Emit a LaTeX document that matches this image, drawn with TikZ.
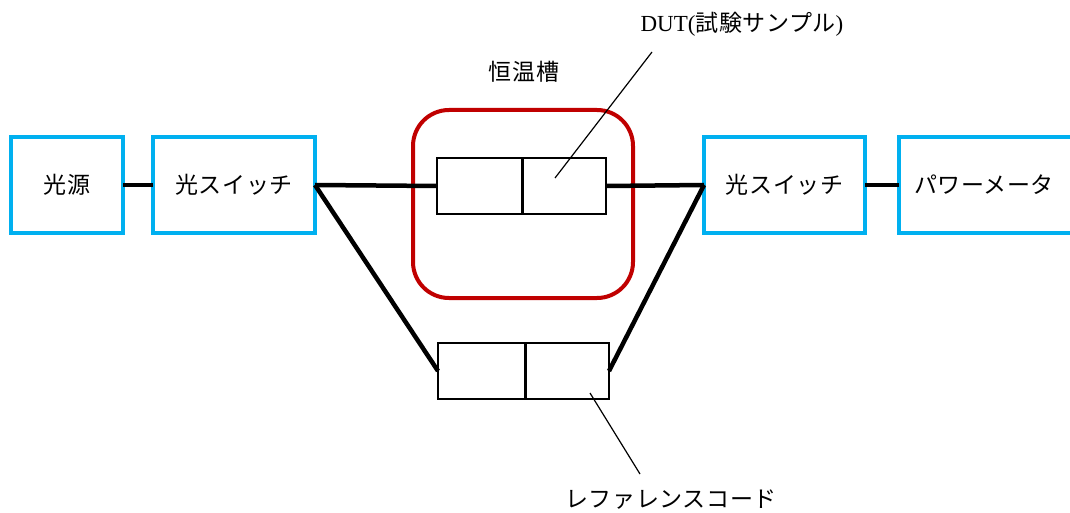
\documentclass[tikz,border=0pt]{standalone}
\usepackage{fontspec}
\setmainfont{Liberation Serif}
\newfontfamily\cjk[LetterSpace=2.5]{Noto Sans CJK JP}
\definecolor{boxblue}{HTML}{00B0F0}
\definecolor{ovenred}{HTML}{C00000}
\begin{document}
\begin{tikzpicture}[x=1pt,y=-1pt,
  bluebox/.style={draw=boxblue,line width=4pt,inner sep=0pt,outer sep=0pt,fill=white,
    font=\fontsize{23}{27}\selectfont\cjk},
  cordbox/.style={draw=black,line width=2pt,inner sep=0pt,outer sep=0pt,minimum width=85pt,minimum height=56pt},
  fiber/.style={line width=4.5pt},
  leader/.style={line width=1.2pt},
  lbl/.style={inner sep=0pt,font=\fontsize{23}{27}\selectfont\cjk}]
\useasboundingbox (0,0) rectangle (1070,513);
\begin{scope}
\clip (0,0) rectangle (1070,513);
% blue boxes
\node[bluebox,minimum width=112pt,minimum height=96pt] (src) at (67,185) {光源};
\node[bluebox,minimum width=162pt,minimum height=96pt] (sw1) at (234,185) {光スイッチ};
\node[bluebox,minimum width=161pt,minimum height=96pt] (sw2) at (784.5,185) {光スイッチ};
\node[bluebox,minimum width=175pt,minimum height=96pt] (pm) at (986.5,185) {};
\node[lbl] (pmlbl) at (984,185) {パワーメータ};
% oven
\node[draw=ovenred,line width=4pt,rounded corners=36pt,minimum width=220pt,minimum height=188pt,inner sep=0pt,outer sep=0pt] (oven) at (523,204) {};
\node[lbl] (ovenlbl) at (524,72) {恒温槽};
% DUT cord
\node[cordbox] (dutL) at (479.5,186) {};
\node[cordbox,minimum width=84pt] (dutR) at (564,186) {};
% reference cord
\node[cordbox,minimum width=87pt] (refL) at (481.5,371) {};
\node[cordbox,minimum width=84pt] (refR) at (567,371) {};
\draw[line width=3pt] (dutL.north east) -- (dutL.south east);
\draw[line width=3pt] (refL.north east) -- (refL.south east);
% fibers
\draw[fiber] (src) -- (sw1);
\draw[fiber] (sw2) -- (pm);
\draw[fiber] (sw1.east) -- (dutL.west);
\draw[fiber] (dutR.east) -- (sw2.west);
\draw[fiber] (sw1.east) -- (refL.west);
\draw[fiber] (refR.east) -- (sw2.west);
% labels and leaders
\node[inner sep=0pt,font=\fontsize{23}{27}\selectfont] (dutlbl) at (742,24) {DUT({\cjk 試験サンプル})};
\coordinate (dutlt) at (652,52);
\coordinate (dutpt) at (555,178);
\draw[leader] (dutlt) -- (dutpt);
\node[lbl] (reflbl) at (671,500) {レファレンスコード};
\coordinate (refpt) at (590,393);
\coordinate (reflt) at (640,474);
\draw[leader] (refpt) -- (reflt);
\end{scope}
\end{tikzpicture}
\end{document}
